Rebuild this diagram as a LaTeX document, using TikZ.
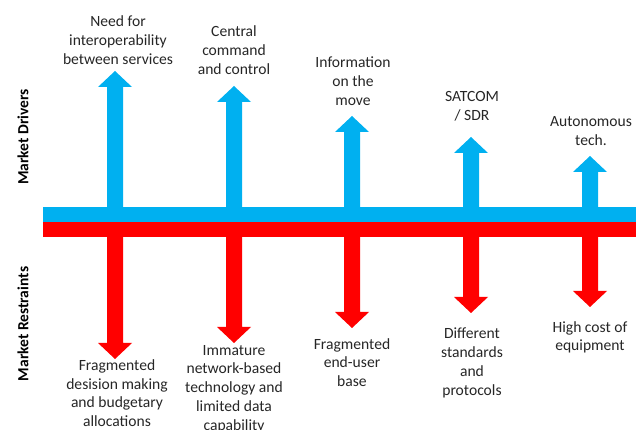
\documentclass[tikz,border=0pt]{standalone}
\usepackage{fontspec}
\setmainfont{Carlito}
\definecolor{drvblue}{HTML}{00B0F0}
\definecolor{resred}{HTML}{FF0000}
\definecolor{txtgray}{HTML}{262626}
\newcommand\drvarrow[2]{%
  \fill[drvblue] (#1-8,210) -- (#1-8,#2+16) -- (#1-17,#2+16) -- (#1,#2) -- (#1+17,#2+16) -- (#1+8,#2+16) -- (#1+8,210) -- cycle;}
\newcommand\resarrow[2]{%
  \fill[resred] (#1-8,234) -- (#1-8,#2-16) -- (#1-17,#2-16) -- (#1,#2) -- (#1+17,#2-16) -- (#1+8,#2-16) -- (#1+8,234) -- cycle;}
\begin{document}
\begin{tikzpicture}[x=1pt,y=-1pt,
  lbl/.style={align=center,inner sep=0pt,text=txtgray,font=\fontsize{15.6}{18.7}\selectfont},
  side/.style={rotate=90,inner sep=0pt,text=black,font=\fontsize{15.5}{17}\selectfont\bfseries}]
\useasboundingbox (0,0) rectangle (643,430);
% bars
\fill[drvblue] (43,207) rectangle (636,222);
\fill[resred] (43,222) rectangle (636,237);
% driver arrows
\drvarrow{115}{71}
\drvarrow{234}{86}
\drvarrow{352}{116}
\drvarrow{471}{137}
\drvarrow{590}{156}
% restraint arrows
\resarrow{115}{359}
\resarrow{234}{343}
\resarrow{352}{328}
\resarrow{471}{313}
\resarrow{590}{307}
% side labels
\node[side] (md) at (23,137) {Market Drivers};
\node[side] (mr) at (23,324) {Market Restraints};
% driver labels
\node[lbl] (d1) at (118,40) {Need for\\interoperability\\between services};
\node[lbl] (d2) at (234,50) {Central\\command\\and control};
\node[lbl] (d3) at (353,81) {Information\\on the\\move};
\node[lbl] (d4) at (472,106) {SATCOM\\/ SDR};
\node[lbl] (d5) at (591,131) {Autonomous\\tech.};
% restraint labels
\node[lbl,anchor=north] (r1) at (117,359.5) {Fragmented\\desision making\\and budgetary\\allocations};
\node[lbl,anchor=north] (r2) at (234,345) {Immature\\network-based\\technology and\\limited data\\capability};
\node[lbl,anchor=north] (r3) at (352,338) {Fragmented\\end-user\\base};
\node[lbl,anchor=north] (r4) at (472,328) {Different\\standards\\and\\protocols};
\node[lbl,anchor=north] (r5) at (590,321) {High cost of\\equipment};
\end{tikzpicture}
\end{document}
